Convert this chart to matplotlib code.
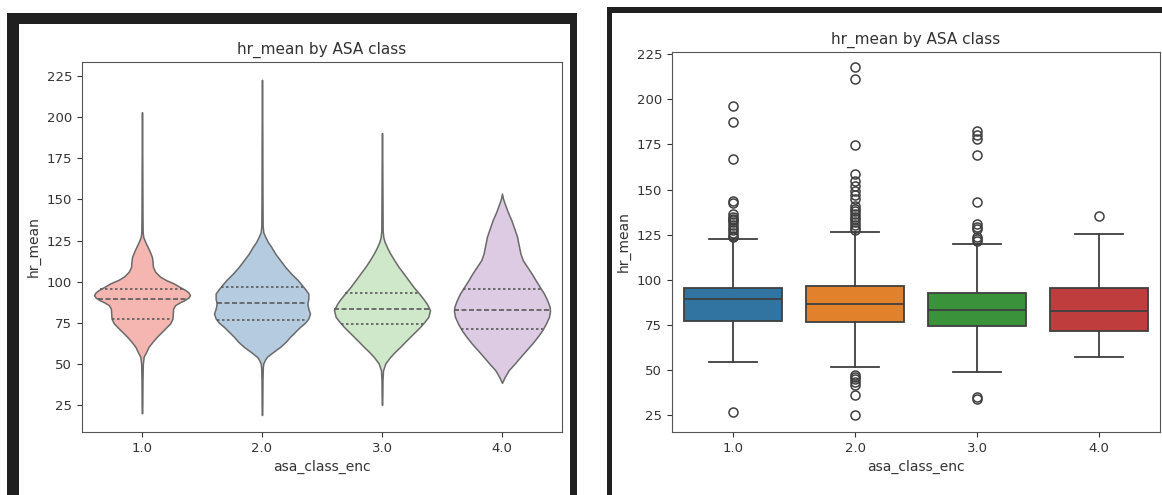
import matplotlib
matplotlib.use("Agg")
import matplotlib.pyplot as plt
from matplotlib.patches import Rectangle
import numpy as np

# categories
classes = ["1.0", "2.0", "3.0", "4.0"]

# violin profiles (hr value, relative density)
v1_y = [19.9, 25, 40, 50, 54.3, 57, 60.4, 63.5, 66.5, 70.5, 74.6, 77.5, 80.6, 83.5, 85.7, 87.5, 88.7,
        90.3, 91.8, 93.5, 95, 97, 99, 101, 103, 106, 109, 112, 115, 117, 119, 121.5, 124.1, 127, 130,
        140, 170, 203]
v1_d = [0, 1, 1.5, 2.5, 5, 12, 20, 32, 45, 65, 85, 92, 93, 94, 100, 115, 128,
        140, 145, 140, 130, 112, 95, 72, 55, 40, 33, 32, 30, 26, 22, 16, 10, 4, 2,
        1.5, 1, 0]

v2_y = [18.9, 25, 40, 48, 50.3, 52.5, 54.3, 57, 60.4, 63.5, 66.5, 69.5, 72.5, 75, 77.6, 80.6, 83.5,
        86.7, 89.5, 92.8, 95, 96.8, 100.9, 104.9, 109, 113, 117, 121.1, 124, 127.2, 130, 134, 150,
        190, 222.7]
v2_d = [0, 1, 1.5, 2.5, 4, 9, 15, 32, 55, 72, 85, 100, 115, 130, 140, 145, 140,
        137, 140, 140, 132, 125, 108, 88, 70, 55, 40, 28, 18, 10, 4, 2, 1.5,
        1, 0]

v3_y = [25, 30, 40, 46, 50.3, 54.3, 57.5, 60.4, 63.5, 66.5, 69.5, 72.5, 75.5, 78.6, 82.7, 86.7, 89.5,
        92.8, 96.8, 100.9, 105, 109, 113, 117, 120.5, 124.1, 127, 131, 150, 170, 190.3]
v3_d = [0, 1, 1.5, 3, 10, 25, 40, 55, 70, 85, 100, 115, 128, 140, 145, 135, 125,
        112, 95, 80, 65, 50, 37, 25, 16, 8, 4, 2, 1.5, 1, 0]

v4_y = [38.5, 42, 46.2, 50, 54.3, 58.5, 62.4, 66.5, 70.5, 74.5, 78.6, 82, 84.7, 88.5, 92.8, 97, 100.9,
        105, 109, 113, 117, 120, 124, 127.2, 132, 137.3, 142, 147.4, 150.5, 153.5]
v4_d = [0, 8, 20, 37, 55, 73, 90, 106, 120, 131, 140, 143, 142, 135, 125, 112, 100,
        88, 75, 62, 55, 52, 48, 45, 37, 28, 18, 8, 3, 0]

# quartiles (q1, median, q3)
q1 = [77.5, 76.9, 74.5, 71.5]
med = [89.3, 86.9, 83.2, 83.0]
q3 = [95.5, 96.9, 92.9, 95.5]

# box plot whiskers and outliers (right screenshot)
whis_lo = [54.4, 51.7, 49.2, 57.6]
whis_hi = [122.4, 126.3, 120.1, 125.2]
fliers = [
    [196.4, 187.5, 166.9, 143.7, 142.5, 136.5, 135.0, 134.0, 133.0, 132.0, 130.5, 129.0, 127.5,
     126.0, 124.5, 123.5, 26.6],
    [218.0, 211.0, 174.9, 158.5, 155.0, 152.0, 149.5, 147.0, 145.0, 141.0, 139.5, 138.0, 136.5,
     135.0, 133.5, 132.0, 130.5, 129.0, 127.5, 47.5, 46.3, 45.0, 43.7, 42.0, 36.2, 25.0],
    [182.5, 180.0, 178.0, 169.3, 143.3, 131.0, 129.5, 128.0, 123.5, 122.5, 121.5, 35.0, 33.8],
    [135.2],
]

violin_colors = ["#f5b5b0", "#b5cbe0", "#cfe8c9", "#dccbe2"]
box_colors = ["#3274a1", "#e1812c", "#3a923a", "#c03d3e"]

W, H = 1162, 495
fig = plt.figure(figsize=(W / 100, H / 100), dpi=100)
plt.rcParams['font.family'] = 'DejaVu Sans'


def px_rect(x0, y0, x1, y1):
    return [x0 / W, 1 - y1 / H, (x1 - x0) / W, (y1 - y0) / H]


# screenshot frames
for x0, y0, x1, y1 in [(7, 13, 19, 495), (7, 13, 577, 24), (570, 13, 577, 495),
                       (607, 7, 612, 495), (607, 7, 1162, 13)]:
    r = px_rect(x0, y0, x1, y1)
    fig.patches.append(Rectangle((r[0], r[1]), r[2], r[3], transform=fig.transFigure,
                                 facecolor="#202020", edgecolor="none"))

ax1 = fig.add_axes(px_rect(82, 62, 562, 432))
ax2 = fig.add_axes(px_rect(672, 52, 1160, 432))

pos = np.arange(len(classes))

# violins
vstats = []
for ys, ds in [(v1_y, v1_d), (v2_y, v2_d), (v3_y, v3_d), (v4_y, v4_d)]:
    vstats.append({"coords": np.array(ys), "vals": np.array(ds, dtype=float),
                   "mean": np.nan, "median": np.nan, "min": ys[0], "max": ys[-1]})
parts = ax1.violin(vstats, positions=pos, widths=0.8, showmeans=False,
                   showextrema=False, showmedians=False)
for body, c in zip(parts["bodies"], violin_colors):
    body.set_facecolor(c)
    body.set_edgecolor("#6a6a6a")
    body.set_linewidth(1.1)
    body.set_alpha(1)

for i, (ys, ds) in enumerate([(v1_y, v1_d), (v2_y, v2_d), (v3_y, v3_d), (v4_y, v4_d)]):
    dmax = max(ds)
    for q, ls in [(q1[i], (0, (1.5, 1.5))), (med[i], (0, (3, 1.5))), (q3[i], (0, (1.5, 1.5)))]:
        hw = 0.4 * np.interp(q, ys, ds) / dmax
        ax1.hlines(q, pos[i] - hw, pos[i] + hw, colors="#5a5a5a", linestyles=ls, linewidth=1.2)

# boxes
stats = []
for i in range(len(classes)):
    stats.append({"q1": q1[i], "med": med[i], "q3": q3[i], "whislo": whis_lo[i],
                  "whishi": whis_hi[i], "fliers": fliers[i]})
bp = ax2.bxp(stats, positions=pos, widths=0.8, capwidths=0.4, patch_artist=True,
             boxprops=dict(edgecolor="#3f3f3f", linewidth=1.3),
             medianprops=dict(color="#3f3f3f", linewidth=1.3),
             whiskerprops=dict(color="#3f3f3f", linewidth=1.3),
             capprops=dict(color="#3f3f3f", linewidth=1.3),
             flierprops=dict(marker="o", markerfacecolor="none", markeredgecolor="#3f3f3f",
                             markersize=6.5, markeredgewidth=1.1))
for patch, c in zip(bp["boxes"], box_colors):
    patch.set_facecolor(c)

for ax, ylim in [(ax1, (8.6, 233.5)), (ax2, (15.8, 226.2))]:
    ax.set_xlim(-0.5, 3.5)
    ax.set_ylim(*ylim)
    ax.set_xticks(pos)
    ax.set_xticklabels(classes)
    ax.set_yticks([25, 50, 75, 100, 125, 150, 175, 200, 225])
    ax.tick_params(labelsize=9.5, colors="#333333", length=3.5)
    ax.set_title("hr_mean by ASA class", fontsize=11, color="#333333")
    ax.set_xlabel("asa_class_enc", fontsize=10, color="#333333")
    ax.set_ylabel("hr_mean", fontsize=10, color="#333333")
    for s in ax.spines.values():
        s.set_color("#555555")

fig.savefig("out.png", dpi=100)
